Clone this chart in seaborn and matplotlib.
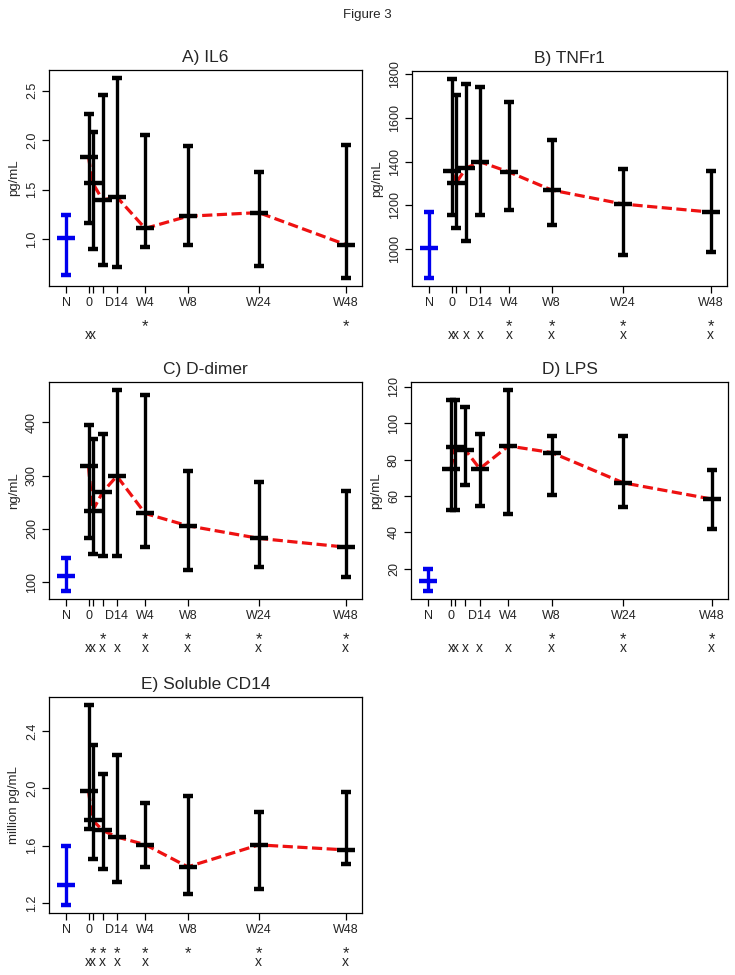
import numpy as np
import pandas as pd
import seaborn as sns
import matplotlib
matplotlib.use("Agg")
import matplotlib.pyplot as plt

sns.set_theme(style="ticks")
plt.rcParams['font.family'] = ['Liberation Sans', 'DejaVu Sans']

# ---- data ----
time_labels = ["N", "0", "", "", "D14", "W4", "W8", "W24", "W48"]
time_pos = [-11, 0, 2, 7, 14, 28, 49, 84, 127]

titles = ["A) IL6", "B) TNFr1", "C) D-dimer", "D) LPS", "E) Soluble CD14"]
ylabels = ["pg/mL", "pg/mL", "ng/mL", "pg/mL", "million pg/mL"]

il6_med = [1.007, 1.83, 1.568, 1.394, 1.424, 1.107, 1.23, 1.267, 0.943]
il6_lo = [0.633, 1.164, 0.903, 0.736, 0.713, 0.916, 0.943, 0.723, 0.606]
il6_hi = [1.24, 2.266, 2.086, 2.453, 2.627, 2.055, 1.935, 1.681, 1.952]
il6_ticks = [1.0, 1.5, 2.0, 2.5]

tnf_med = [1005, 1357, 1301, 1371, 1399, 1353, 1270, 1206, 1169]
tnf_lo = [867, 1157, 1096, 1038, 1157, 1179, 1108, 974, 988]
tnf_hi = [1169, 1779, 1707, 1756, 1744, 1672, 1499, 1365, 1357]
tnf_ticks = [1000, 1200, 1400, 1600, 1800]

dd_med = [112.5, 317, 234, 269, 299, 229, 206, 182.5, 166]
dd_lo = [84, 183, 153, 149, 149, 167, 124, 128, 111]
dd_hi = [145, 394, 367.5, 377.5, 460, 451, 309, 288, 271]
dd_ticks = [100, 200, 300, 400]

lps_med = [13.2, 74.9, 87.2, 85.3, 75.0, 87.5, 83.9, 67.2, 58.3]
lps_lo = [7.7, 52.5, 52.5, 65.9, 54.5, 50.3, 60.4, 53.8, 41.7]
lps_hi = [20.0, 113, 113, 109, 94.3, 118.3, 93.0, 93.2, 74.3]
lps_ticks = [20, 40, 60, 80, 100, 120]

cd14_med = [1.325, 1.981, 1.778, 1.706, 1.66, 1.607, 1.452, 1.605, 1.57]
cd14_lo = [1.186, 1.716, 1.505, 1.438, 1.343, 1.452, 1.265, 1.297, 1.473]
cd14_hi = [1.6, 2.58, 2.30, 2.102, 2.229, 1.90, 1.949, 1.831, 1.975]
cd14_ticks = [1.2, 1.6, 2.0, 2.4]

# significance markers (indices into time_pos)
star_idx = [[5, 8], [5, 6, 7, 8], [3, 5, 6, 7, 8], [6, 7, 8], [2, 3, 4, 5, 6, 7, 8]]
x_idx = [[1, 2], [1, 2, 3, 4, 5, 6, 7, 8], [1, 2, 3, 4, 5, 6, 7, 8],
         [1, 2, 3, 4, 5, 6, 7, 8], [1, 2, 3, 4, 5, 7, 8]]

panels = [
    (il6_med, il6_lo, il6_hi, il6_ticks, "{:.1f}"),
    (tnf_med, tnf_lo, tnf_hi, tnf_ticks, "{:.0f}"),
    (dd_med, dd_lo, dd_hi, dd_ticks, "{:.0f}"),
    (lps_med, lps_lo, lps_hi, lps_ticks, "{:.0f}"),
    (cd14_med, cd14_lo, cd14_hi, cd14_ticks, "{:.1f}"),
]

# ---- layout (pixels) ----
W, H = 735, 975
boxes = [(49, 362, 70, 286), (412, 727, 71, 286),
         (49, 362, 382, 599), (411, 728, 382, 599),
         (49, 362, 697, 913)]

fig = plt.figure(figsize=(W / 100, H / 100), dpi=100)
fig.text(367 / W, 1 - 15 / H, "Figure 3", ha="center", va="center", fontsize=9.5)

for i, (med, lo, hi, ticks, fmt) in enumerate(panels):
    l, r, t, b = boxes[i]
    ax = fig.add_axes([l / W, 1 - b / H, (r - l) / W, (b - t) / H])
    df = pd.DataFrame({"x": time_pos, "med": med, "lo": lo, "hi": hi})
    sub = df.iloc[1:]
    sns.lineplot(data=sub, x="x", y="med", color="#EE1111", linewidth=2.3,
                 ax=ax, zorder=1, sort=False)
    ax.lines[-1].set_linestyle((0, (3.2, 1.4)))
    for j, row in df.iterrows():
        col = "#0000EE" if j == 0 else "black"
        ax.errorbar(row["x"], row["med"],
                    yerr=[[row["med"] - row["lo"]], [row["hi"] - row["med"]]],
                    fmt="_", color=col, ecolor=col, markersize=13, mew=3.2,
                    elinewidth=2.4, capsize=3.8, capthick=2.4, zorder=3)
    ymin, ymax = min(lo), max(hi)
    pad = (ymax - ymin) * 0.04
    ax.set_ylim(ymin - pad, ymax + pad)
    ax.set_xlim(-19.5, 135)
    ax.set_xticks(time_pos)
    ax.set_xticklabels(time_labels, fontsize=9)
    ax.set_yticks(ticks)
    ax.set_yticklabels([fmt.format(v) for v in ticks], fontsize=9,
                       rotation=90, va="center")
    ax.set_xlabel("")
    ax.set_ylabel(ylabels[i], fontsize=9.5, labelpad=4)
    ax.set_title(titles[i], fontsize=12.5, pad=6)
    ax.tick_params(axis="both", direction="out", length=5, width=0.9,
                   color="black", pad=3, labelcolor="#222222")
    for s in ax.spines.values():
        s.set_visible(True)
        s.set_color("black")
        s.set_linewidth(0.9)
    ax.grid(False)
    for k in star_idx[i]:
        ax.annotate("*", xy=(time_pos[k], 0), xycoords=("data", "axes fraction"),
                    xytext=(0, -29), textcoords="offset points",
                    ha="center", va="center", fontsize=12)
    for k in x_idx[i]:
        ax.annotate("x", xy=(time_pos[k], 0), xycoords=("data", "axes fraction"),
                    xytext=(0, -35), textcoords="offset points",
                    ha="center", va="center", fontsize=10)

fig.savefig("out.png", dpi=100)
